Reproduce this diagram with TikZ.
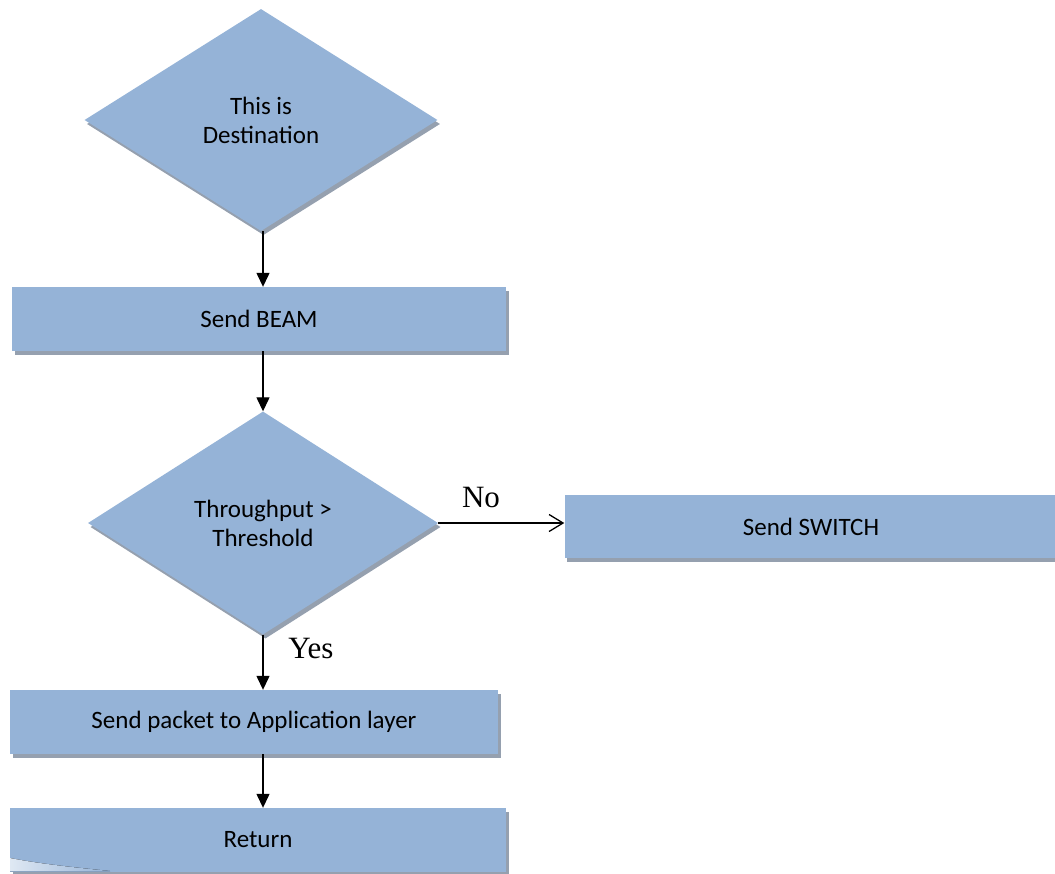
\documentclass[tikz,border=0pt]{standalone}
\usepackage{fontspec}
\setmainfont{Carlito}
\newfontfamily\labelfont{Liberation Serif}
\usetikzlibrary{shapes.geometric,shadows,arrows.meta}
\definecolor{boxblue}{RGB}{149,179,215}
\definecolor{shadowgray}{RGB}{138,150,166}
\tikzset{
  shadowed/.style={drop shadow={shadow xshift=2.5pt,shadow yshift=-4pt,fill=shadowgray,opacity=0.9}},
  procbox/.style={rectangle,fill=boxblue,draw=none,shadowed,inner sep=0pt,
    font=\fontsize{25}{29}\selectfont,align=center},
  decbox/.style={diamond,fill=boxblue,draw=none,shadowed,inner sep=0pt,aspect=1.6,
    font=\fontsize{25}{29}\selectfont,align=center},
  flowarrow/.style={line width=1.3pt,-{Triangle[length=14pt,width=13pt]}},
  noarrow/.style={line width=1.3pt,-{Straight Barb[length=14pt,width=17pt,line width=1.3pt]}},
  edgelabel/.style={font=\labelfont\fontsize{31}{35}\selectfont,inner sep=0pt}
}
\begin{document}
\begin{tikzpicture}[x=1pt,y=-1pt]
\useasboundingbox (0,0) rectangle (1055,873);
\node[decbox,minimum width=353pt,minimum height=222pt] (dest) at (261,120) {This is\\Destination};
\node[procbox,minimum width=494pt,minimum height=64pt] (beam) at (259,319) {Send BEAM};
\node[decbox,minimum width=350pt,minimum height=223pt] (thr) at (263,523) {Throughput >\\Threshold};
\node[procbox,minimum width=493pt,minimum height=63pt] (switch) at (811,526.5) {Send SWITCH};
\node[procbox,minimum width=488pt,minimum height=64pt] (packet) at (254,722) {Send packet to Application layer};
\node[procbox,minimum width=496pt,minimum height=64pt] (ret) at (258,840) {Return};
\fill[left color=white!70!boxblue,right color=boxblue,draw=none]
  (10,858) .. controls (40,864) and (80,868) .. (110,871) -- (10,871) -- cycle;
\coordinate (axis) at (263,0);
\draw[flowarrow] (dest.south -| axis) -- (beam.north -| axis);
\draw[flowarrow] (beam.south -| axis) -- (thr.north -| axis);
\draw[flowarrow] (thr.south -| axis) -- (packet.north -| axis);
\draw[flowarrow] (packet.south -| axis) -- (ret.north -| axis);
\draw[noarrow] (thr.east) -- (thr.east -| switch.west);
\node[edgelabel] (nolabel) at (481,497) {No};
\node[edgelabel] (yeslabel) at (311,648) {Yes};
\end{tikzpicture}
\end{document}
